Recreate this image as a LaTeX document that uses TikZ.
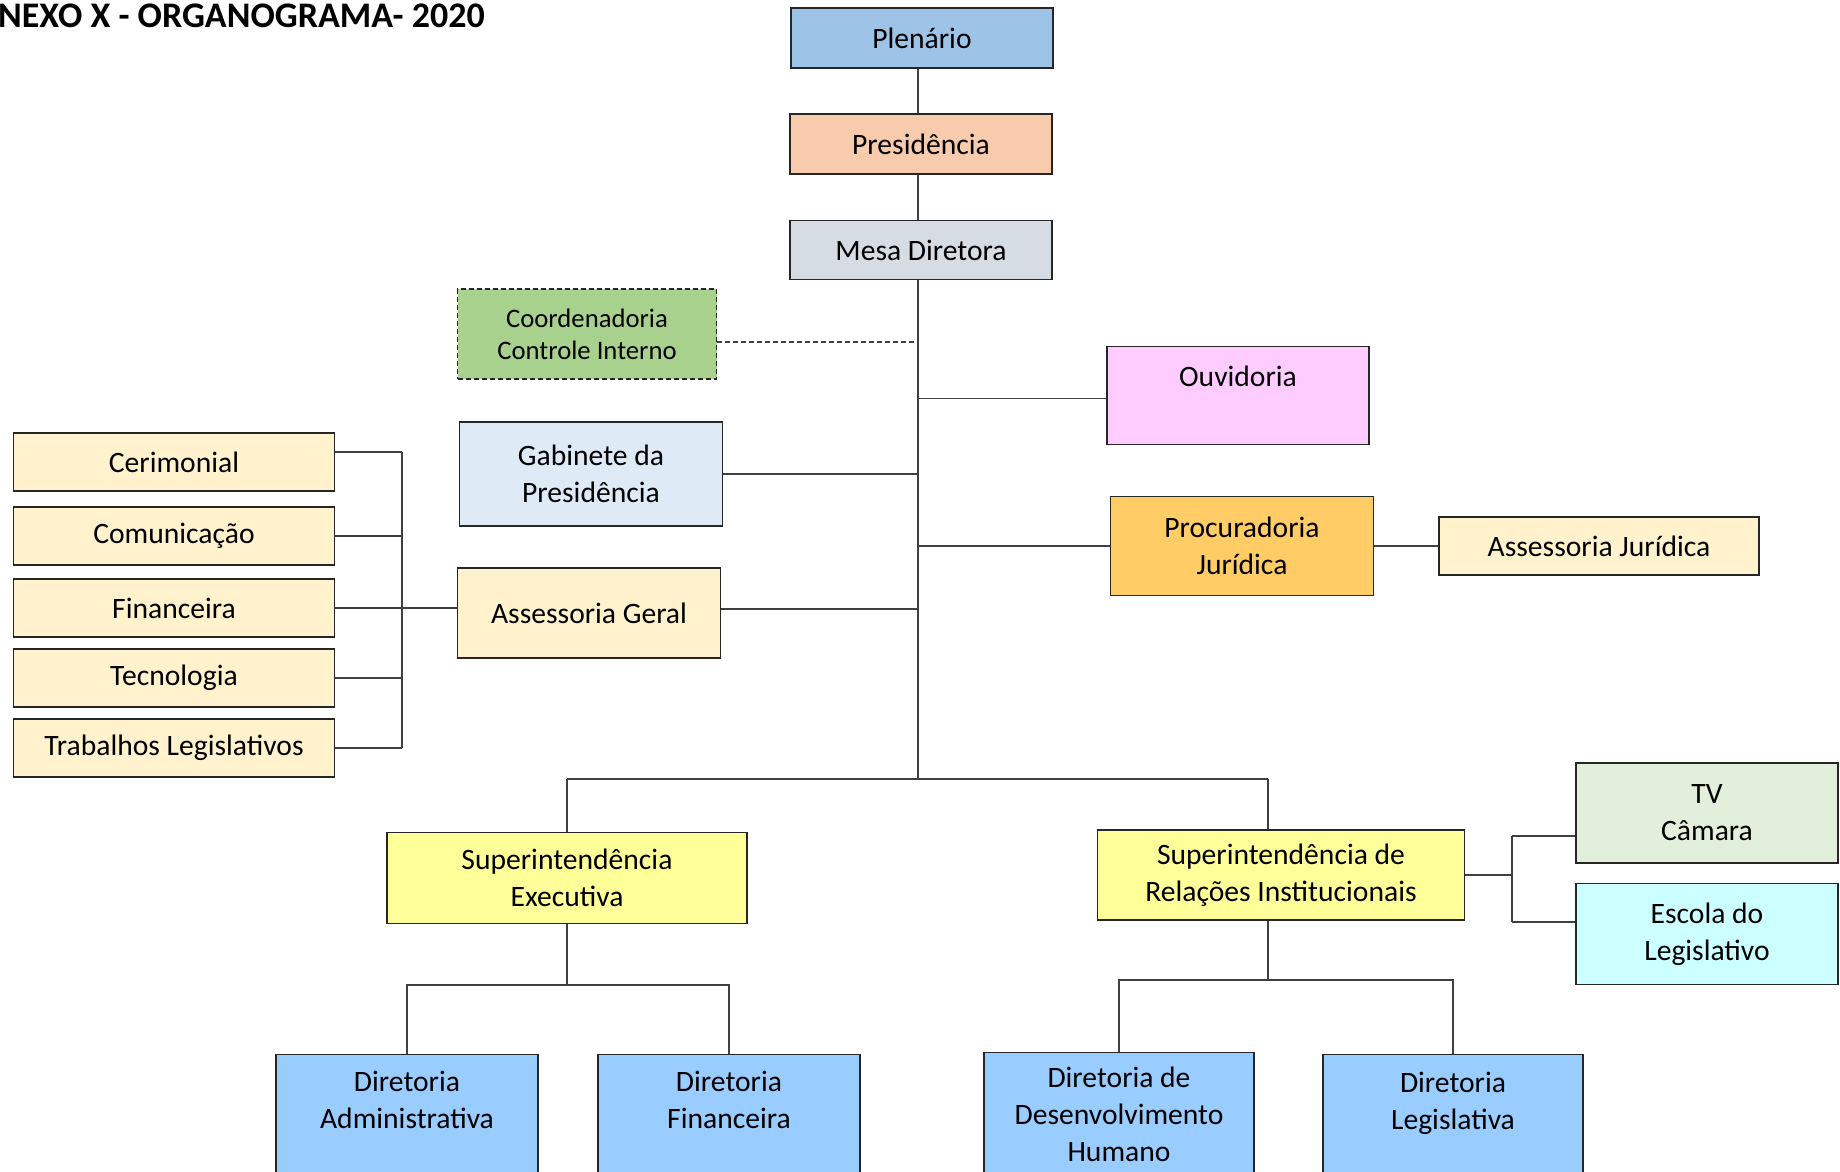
\documentclass[tikz,border=0pt]{standalone}
\usepackage{fontspec}
\setmainfont{Carlito}
\usetikzlibrary{positioning}

\definecolor{corplen}{HTML}{9DC3E6}
\definecolor{corpres}{HTML}{F8CBAD}
\definecolor{cormesa}{HTML}{D6DCE4}
\definecolor{corcoord}{HTML}{A9D18E}
\definecolor{corgab}{HTML}{DEEBF7}
\definecolor{corasse}{HTML}{FFF2CC}
\definecolor{corouv}{HTML}{FFCCFF}
\definecolor{corproc}{HTML}{FFCC66}
\definecolor{corsup}{HTML}{FFFF99}
\definecolor{cortv}{HTML}{E2EFDA}
\definecolor{coresc}{HTML}{CCFFFF}
\definecolor{cordir}{HTML}{99CCFF}

\tikzset{
  caixa/.style={draw=black!85, line width=1.3pt, align=center, inner sep=0pt,
    font=\fontsize{29.6}{37}\selectfont},
  liga/.style={line width=1.5pt, draw=black!75},
}

\begin{document}
\begin{tikzpicture}[x=1pt,y=-1pt]
\useasboundingbox (0,0) rectangle (1840,1171);
\clip (0,0) rectangle (1840,1171);
\fill[white] (0,0) rectangle (1840,1171);
\draw (-2,27) node[anchor=base west, inner sep=0pt, font=\fontsize{36}{36}\selectfont\bfseries] (titulo) {NEXO X - ORGANOGRAMA- 2020};
%----topo----%
\draw (922,38) node[caixa, fill=corplen, minimum width=262, minimum height=60] (plen) {Plenário};
\draw (921,144) node[caixa, fill=corpres, minimum width=262, minimum height=60] (pres) {Presidência};
\draw (921,250) node[caixa, fill=cormesa, minimum width=262, minimum height=59] (mesa) {Mesa Diretora};
\coordinate (tronco) at (918,779);
%----esquerda----%
\draw (587,334) node[caixa, fill=corcoord, dash pattern=on 5pt off 3pt, minimum width=259, minimum height=90, font=\fontsize{26.7}{32}\selectfont] (coord) {Coordenadoria\\Controle Interno};
\draw (591,474) node[caixa, fill=corgab, minimum width=263, minimum height=104] (gab) {Gabinete da\\Presidência};
\draw (589,613) node[caixa, fill=corasse, minimum width=263, minimum height=90] (ageral) {Assessoria Geral};
\draw (174,462) node[caixa, fill=corasse, minimum width=321, minimum height=58] (cer) {Cerimonial};
\draw (174,536) node[caixa, fill=corasse, minimum width=321, minimum height=58] (com) {Comunicação};
\draw (174,608) node[caixa, fill=corasse, minimum width=321, minimum height=58] (fin) {Financeira};
\draw (174,678) node[caixa, fill=corasse, minimum width=321, minimum height=58] (tec) {Tecnologia};
\draw (174,748) node[caixa, fill=corasse, minimum width=321, minimum height=58] (trab) {Trabalhos Legislativos};
\coordinate (chave) at (402,0);
%----direita----%
\draw (1238,346) node[caixa, fill=corouv, anchor=north, minimum width=262, text height=40, text depth=58] (ouv) {Ouvidoria};
\draw (1242,546) node[caixa, fill=corproc, minimum width=263, minimum height=99] (proc) {Procuradoria\\Jurídica};
\draw (1599,546) node[caixa, fill=corasse, minimum width=320, minimum height=58] (ajur) {Assessoria Jurídica};
%----superintendencias----%
\draw (567,878) node[caixa, fill=corsup, minimum width=360, minimum height=91] (supe) {Superintendência\\Executiva};
\draw (1281,875) node[caixa, fill=corsup, minimum width=367, minimum height=90] (supr) {Superintendência de\\Relações Institucionais};
\draw (1707,813) node[caixa, fill=cortv, minimum width=262, minimum height=100] (tv) {TV\\Câmara};
\draw (1707,934) node[caixa, fill=coresc, minimum width=262, minimum height=101] (esc) {Escola do\\Legislativo};
\coordinate (dir) at (1268,779);
\coordinate (ramoe) at (567,985);
\coordinate (ramod) at (1268,980);
\coordinate (chaved) at (1512,0);
%----diretorias----%
\draw (407,1054) node[caixa, fill=cordir, anchor=north, minimum width=262, text height=74, text depth=52] (dadm) {Diretoria\\Administrativa};
\draw (729,1054) node[caixa, fill=cordir, anchor=north, minimum width=262, text height=74, text depth=52] (dfin) {Diretoria\\Financeira};
\draw (1119,1052) node[caixa, fill=cordir, anchor=north, minimum width=270, text height=109, text depth=24] (ddh) {Diretoria de\\Desenvolvimento\\Humano};
\draw (1453,1054) node[caixa, fill=cordir, anchor=north, minimum width=260, text height=75, text depth=51] (dleg) {Diretoria\\Legislativa};
%----ligacoes----%
\draw[liga] (plen.south -| tronco) -- (pres.north -| tronco);
\draw[liga] (pres.south -| tronco) -- (mesa.north -| tronco);
\draw[liga] (mesa.south -| tronco) -- (tronco);
\draw[liga, dash pattern=on 5pt off 3pt, line width=1.3pt] ([yshift=-8pt]coord.east) -- ([yshift=-8pt]coord.east -| tronco);
\draw[liga] (gab) -- (gab -| tronco);
\draw[liga] ([yshift=4pt]ageral.east) -- ([yshift=4pt]ageral.east -| tronco);
\draw[liga] ([yshift=-3pt]ouv.west) -- ([yshift=-3pt]ouv.west -| tronco);
\draw[liga] (proc) -- (proc -| tronco);
\draw[liga] (proc) -- (ajur);
%----chave esquerda----%
\draw[liga] ([yshift=10pt]cer.east -| chave) -- (trab.east -| chave);
\draw[liga] ([yshift=10pt]cer.east) -- ([yshift=10pt]cer.east -| chave);
\foreach \n in {com,fin,tec,trab} \draw[liga] (\n) -- (\n -| chave);
\draw[liga] (fin -| chave) -- (fin -| ageral.west);
%----baixo----%
\draw[liga] (supe.north |- tronco) -- (dir);
\draw[liga] (supe.north |- tronco) -- (supe.north);
\draw[liga] (dir) -- (dir |- supr.north);
\draw[liga] (supe.south) -- (ramoe);
\draw[liga] (dadm) |- (ramoe) -| (dfin);
\draw[liga] (ramod |- supr.south) -- (ramod);
\draw[liga] (ddh) |- (ramod) -| (dleg);
%----chave direita----%
\draw[liga] (supr) -- (supr -| chaved);
\draw[liga] ([yshift=-23pt]tv.west -| chaved) -- ([yshift=12pt]esc.west -| chaved);
\draw[liga] ([yshift=-23pt]tv.west) -- ([yshift=-23pt]tv.west -| chaved);
\draw[liga] ([yshift=12pt]esc.west) -- ([yshift=12pt]esc.west -| chaved);
\end{tikzpicture}
\end{document}
